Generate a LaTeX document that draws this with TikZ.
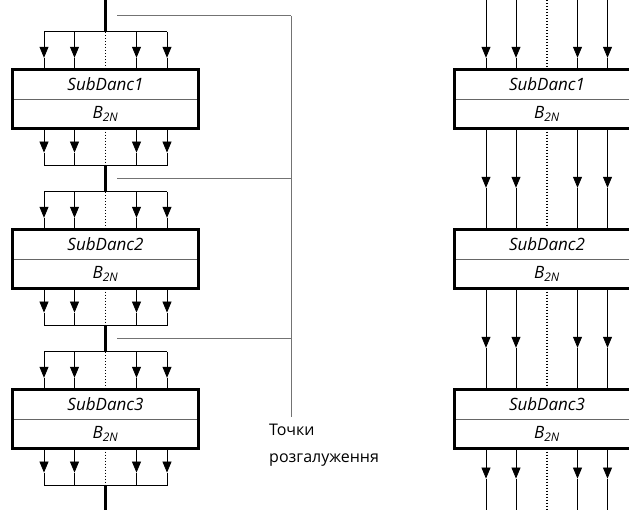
\documentclass[tikz,border=0pt]{standalone}
\usepackage{fontspec}
\setmainfont{Open Sans}
\usetikzlibrary{positioning,calc,arrows.meta}

\tikzset{
	half/.style={rectangle, minimum width=185pt, minimum height=29pt, inner sep=0pt,
		font=\fontsize{17}{19}\selectfont\itshape},
	rama/.style={line width=2.7pt},
	shyna/.style={line width=2.8pt},
	tonka/.style={line width=0.8pt},
	strilka/.style={tonka, -{Triangle[length=11pt,width=9pt]}},
	krapky/.style={line width=1.5pt, dash pattern=on 1.5pt off 1.5pt},
	vidvid/.style={line width=0.8pt, black!55},
}

\begin{document}
\begin{tikzpicture}[x=1pt,y=1pt]
	\useasboundingbox (0,0) rectangle (629,510);
	% left chain of SubDanc blocks
	\foreach \i/\t in {1/440,2/280,3/120}{
		\node[half] (s\i) at (105.5,\t-14.5) {SubDanc\i};
		\node[half,below=0pt of s\i] (b\i) {B\textsubscript{2N}};
		\draw[tonka,black!60] (s\i.south west) -- (s\i.south east);
		\draw[rama] (s\i.north west) rectangle (b\i.south east);
		\coordinate (in\i) at ($(s\i.north)+(0,38)$);
		\coordinate (out\i) at ($(b\i.south)+(0,-37)$);
		\draw[tonka] ($(in\i)+(-61.5,0)$) -- ($(in\i)+(61.5,0)$);
		\draw[tonka] ($(out\i)+(-61.5,0)$) -- ($(out\i)+(61.5,0)$);
		\foreach \d in {-61.5,-31,31,61.5}{
			\draw[strilka] ($(in\i)+(\d,0)$) -- ($(s\i.north)+(\d,12)$);
			\draw[tonka] ($(s\i.north)+(\d,12)$) -- ($(s\i.north)+(\d,0)$);
			\draw[strilka] ($(b\i.south)+(\d,0)$) -- ($(b\i.south)+(\d,-24)$);
			\draw[tonka] ($(b\i.south)+(\d,-24)$) -- ($(out\i)+(\d,0)$);
		}
		\draw[krapky] (in\i) -- (s\i.north);
		\draw[krapky] (b\i.south) -- (out\i);
	}
	% common bus
	\coordinate (top) at (105.5,510);
	\coordinate (bot) at (105.5,0);
	\draw[shyna] (top) -- (in1);
	\draw[shyna] (out1) -- (in2);
	\draw[shyna] (out2) -- (in3);
	\draw[shyna] (out3) -- (bot);
	% branch points
	\coordinate (g1) at ($(top)!0.5!(in1)$);
	\coordinate (g2) at ($(out1)!0.5!(in2)$);
	\coordinate (g3) at ($(out2)!0.5!(in3)$);
	\coordinate (zbir) at (291,93);
	\foreach \i in {1,2,3}
		\draw[vidvid] ($(g\i)+(11.5,0)$) -- (g\i -| zbir);
	\draw[vidvid] (g1 -| zbir) -- (zbir);
	\node[inner sep=0pt, anchor=base west, font=\fontsize{16}{18}\selectfont] (tochky) at (269,74) {Точки};
	\node[inner sep=0pt, anchor=base west, font=\fontsize{16}{18}\selectfont] (rozg)
		at ($(tochky.base west)+(0,-27)$) {розгалуження};

	% right chain, lines run straight through
	\foreach \i/\t in {1/440,2/280,3/120}{
		\node[half] (rs\i) at (547,\t-14.5) {SubDanc\i};
		\node[half,below=0pt of rs\i] (rb\i) {B\textsubscript{2N}};
		\draw[tonka,black!60] (rs\i.south west) -- (rs\i.south east);
		\draw[rama] (rs\i.north west) rectangle (rb\i.south east);
	}
	\coordinate (rtop) at (547,510);
	\coordinate (rbot) at (547,0);
	\foreach \d in {-61,-31,30.5,60.5}{
		\draw[strilka] ($(rtop)+(\d,0)$) -- ($(rs1.north)+(\d,12)$);
		\draw[tonka] ($(rs1.north)+(\d,12)$) -- ($(rs1.north)+(\d,0)$);
		\draw[strilka] ($(rb1.south)+(\d,0)$) -- ($(rs2.north)+(\d,42)$);
		\draw[tonka] ($(rs2.north)+(\d,42)$) -- ($(rs2.north)+(\d,0)$);
		\draw[strilka] ($(rb2.south)+(\d,0)$) -- ($(rs3.north)+(\d,42)$);
		\draw[tonka] ($(rs3.north)+(\d,42)$) -- ($(rs3.north)+(\d,0)$);
		\draw[strilka] ($(rb3.south)+(\d,0)$) -- ($(rb3.south)+(\d,-30)$);
		\draw[tonka] ($(rb3.south)+(\d,-30)$) -- ($(rbot)+(\d,0)$);
	}
	\draw[krapky] (rtop) -- (rs1.north);
	\draw[krapky] (rb1.south) -- (rs2.north);
	\draw[krapky] (rb2.south) -- (rs3.north);
	\draw[krapky] (rb3.south) -- (rbot);
\end{tikzpicture}
\end{document}
